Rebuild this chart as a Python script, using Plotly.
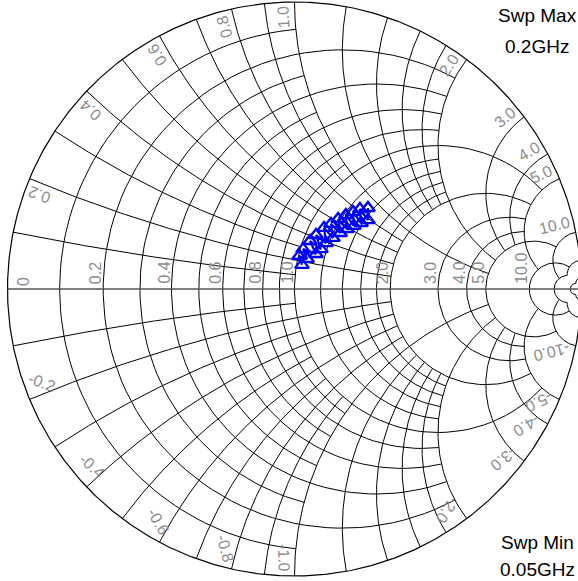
import numpy as np
import plotly.graph_objects as go

# Measured S11 over the sweep (reflection coefficient, real / imaginary part)
s11_re = [0.026, 0.016, 0.044, 0.030, 0.075, 0.054, 0.092, 0.075, 0.110, 0.103,
          0.134, 0.127, 0.159, 0.152, 0.183, 0.179, 0.207, 0.204, 0.232, 0.228,
          0.256, 0.256]
s11_im = [0.084, 0.115, 0.105, 0.139, 0.122, 0.167, 0.139, 0.188, 0.160, 0.213,
          0.178, 0.227, 0.195, 0.244, 0.209, 0.258, 0.220, 0.268, 0.230, 0.279,
          0.240, 0.282]

# Labelled resistance / reactance values
r_labels = [0, 0.2, 0.4, 0.6, 0.8, 1.0, 2.0, 3.0, 4.0, 5.0, 10.0]
x_labels = [0.2, 0.4, 0.6, 0.8, 1.0, 2.0, 3.0, 4.0, 5.0, 10.0]

# Grid density bands: band edges and grid step inside each band
grid_edges = [0, 1, 2, 5, 10, 20, 50]
grid_steps = [0.1, 0.2, 1, 5, 10, 50]

sweep_max = "0.2GHz"
sweep_min = "0.05GHz"

# ---- page geometry -------------------------------------------------------
W, H = 578, 581
CX, CY, RPX = 294.5, 289.0, 287.0     # chart centre and radius in pixels
LABEL_GRAY = "#8c8c8c"
FONT = "Liberation Sans, Arial, Helvetica, sans-serif"


def r_circle(r, x1, x2, n=90):
    t = np.linspace(np.arctan(x1 / (1 + r)), np.arctan(x2 / (1 + r)), n)
    th = np.pi - 2 * t
    c, rad = r / (1 + r), 1 / (1 + r)
    return c + rad * np.cos(th), rad * np.sin(th)


def x_arc(x, r1, r2, n=90):
    ax = abs(x)
    s = np.linspace(np.arctan(ax / (1 + r1)), np.arctan(ax / (1 + r2)), n)
    ph = 1.5 * np.pi - 2 * s
    gx = 1 + np.cos(ph) / ax
    gy = 1 / ax + np.sin(ph) / ax
    return gx, (gy if x > 0 else -gy)


def multiples(lo, hi, step):
    k0 = int(np.ceil(lo / step - 1e-9))
    k1 = int(np.floor(hi / step + 1e-9))
    return [round(k * step, 6) for k in range(k0, k1 + 1)]


def merge(iv):
    iv = sorted(iv)
    out = [list(iv[0])]
    for a, b in iv[1:]:
        if a <= out[-1][1] + 1e-9:
            out[-1][1] = max(out[-1][1], b)
        else:
            out.append([a, b])
    return out


# collect extents of every resistance circle and reactance arc
r_ext, x_ext = {}, {}
nb = len(grid_edges) - 1
for i in range(nb):
    for j in range(nb):
        st = grid_steps[max(i, j)]
        rlo, rhi = grid_edges[i], grid_edges[i + 1]
        xlo, xhi = grid_edges[j], grid_edges[j + 1]
        for r in multiples(rlo, rhi, st):
            if r > 0:
                r_ext.setdefault(r, []).append((xlo, xhi))
        for x in multiples(xlo, xhi, st):
            if x > 0:
                x_ext.setdefault(x, []).append((rlo, rhi))

gx_all, gy_all = [], []


def add(seg):
    gx_all.extend(seg[0].tolist() + [None])
    gy_all.extend(seg[1].tolist() + [None])


for r, ivs in r_ext.items():
    for a, b in merge(ivs):
        if a == 0:
            add(r_circle(r, -b, b))
        else:
            add(r_circle(r, a, b))
            add(r_circle(r, -b, -a))
for x, ivs in x_ext.items():
    for a, b in merge(ivs):
        add(x_arc(x, a, b))
        add(x_arc(-x, a, b))

fig = go.Figure()
fig.add_trace(go.Scatter(x=gx_all, y=gy_all, mode="lines",
                         line=dict(color="#000000", width=1),
                         hoverinfo="skip", showlegend=False))

# outer |Gamma| = 1 circle and the real axis
th = np.linspace(0, 2 * np.pi, 721)
fig.add_trace(go.Scatter(x=np.cos(th), y=np.sin(th), mode="lines",
                         line=dict(color="#000000", width=1.2),
                         hoverinfo="skip", showlegend=False))
fig.add_trace(go.Scatter(x=[-1, 1], y=[0, 0], mode="lines",
                         line=dict(color="#555555", width=1.6),
                         hoverinfo="skip", showlegend=False))

# S11 trace
fig.add_trace(go.Scatter(x=s11_re, y=s11_im, mode="lines+markers",
                         line=dict(color="#0000ff", width=2.2),
                         marker=dict(symbol="triangle-up-open", size=12,
                                     color="#0000ff", line=dict(width=2.4)),
                         showlegend=False, name="S11"))

ann = []
FS = 16


def text_px(t):
    w = {".": 0.278, "-": 0.333}
    return sum(w.get(ch, 0.556) for ch in t) * FS


# resistance labels along the real axis
for r in r_labels:
    g = (r - 1) / (r + 1)
    txt = "0" if r == 0 else f"{r:.1f}"
    ann.append(dict(x=g, y=0, xref="x", yref="y", text=txt, showarrow=False,
                    textangle=-90, xanchor="center", yanchor="bottom",
                    xshift=(16 if r == 0 else -8), yshift=(1 if r == 0 else 3),
                    font=dict(family=FONT, size=FS, color=LABEL_GRAY)))

# reactance labels just inside the rim
for v in x_labels:
    phe = np.pi - 2 * np.arctan(v)
    ph = phe + np.radians(2.3)
    for sign in (1, -1):
        txt = f"{v:.1f}" if sign > 0 else f"-{v:.1f}"
        rho = 0.985 - (text_px(txt) / 2) / RPX
        ang = np.degrees(ph)
        ann.append(dict(x=rho * np.cos(ph), y=sign * rho * np.sin(ph),
                        xref="x", yref="y", text=txt, showarrow=False,
                        textangle=(-ang if sign > 0 else 180 - ang),
                        xanchor="center", yanchor="middle",
                        font=dict(family=FONT, size=FS, color=LABEL_GRAY)))

# sweep limits
for txt, py in (("Swp Max", 15), (sweep_max, 47), ("Swp Min", 542), (sweep_min, 569)):
    ann.append(dict(x=537 / W, y=1 - py / H, xref="paper", yref="paper",
                    text=txt, showarrow=False, xanchor="center", yanchor="middle",
                    font=dict(family=FONT, size=19, color="#000000")))

fig.update_layout(
    width=W, height=H,
    margin=dict(l=0, r=0, t=0, b=0),
    paper_bgcolor="white", plot_bgcolor="white",
    xaxis=dict(range=[(0 - CX) / RPX, (W - CX) / RPX], visible=False, fixedrange=True),
    yaxis=dict(range=[(CY - H) / RPX, CY / RPX], visible=False, fixedrange=True),
    annotations=ann,
)

fig.write_html("out.html")
